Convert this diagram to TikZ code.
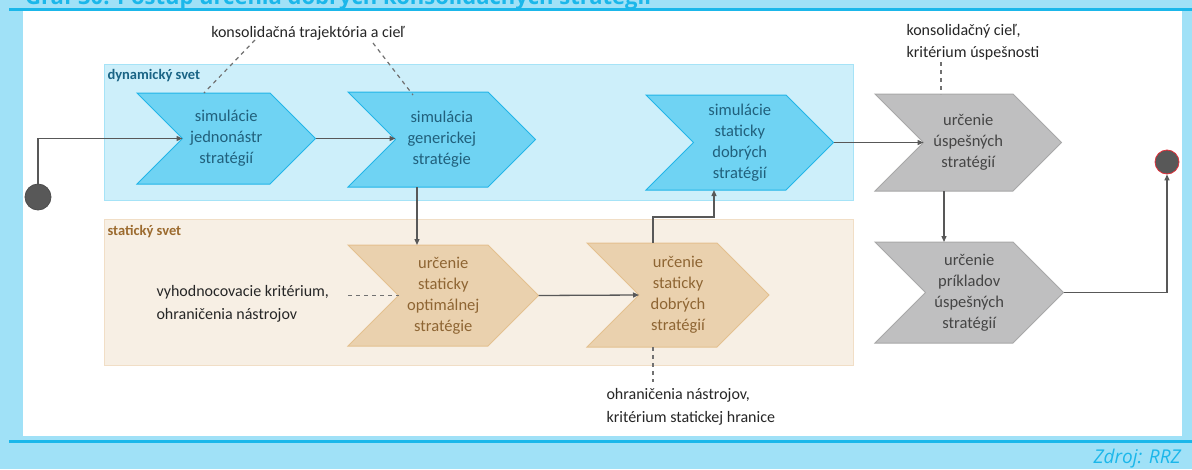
\documentclass[tikz,border=0pt]{standalone}
\usepackage{fontspec}
\setmainfont{Carlito}
\newfontfamily\osans{Open Sans}
\usetikzlibrary{arrows.meta,calc}
\definecolor{bgblue}{HTML}{A0E1F7}
\definecolor{lineblue}{HTML}{1BB7EA}
\definecolor{dynfill}{HTML}{CDEFFA}
\definecolor{dynborder}{HTML}{A6E3F7}
\definecolor{bluefill}{HTML}{6FD3F3}
\definecolor{blueborder}{HTML}{22B5E8}
\definecolor{bluetext}{HTML}{21607C}
\definecolor{dynlabel}{HTML}{1A6485}
\definecolor{statfill}{HTML}{F7EFE4}
\definecolor{statborder}{HTML}{F1DEC6}
\definecolor{tanfill}{HTML}{EAD1AE}
\definecolor{tanborder}{HTML}{E4C08F}
\definecolor{tantext}{HTML}{8E6533}
\definecolor{statlabel}{HTML}{9C6B2F}
\definecolor{grayfill}{HTML}{BFBFC0}
\definecolor{grayborder}{HTML}{A8A8A8}
\definecolor{graytext}{HTML}{454545}
\definecolor{connc}{HTML}{585858}
\definecolor{endred}{HTML}{E0303A}
\tikzset{
  chevfont/.style={align=center,font=\fontsize{16.5}{21}\selectfont},
  bluechev/.style={fill=bluefill,draw=blueborder,line width=1pt},
  bluechev text/.style={chevfont,text=bluetext},
  tanchev/.style={fill=tanfill,draw=tanborder,line width=1pt},
  tanchev text/.style={chevfont,text=tantext},
  graychev/.style={fill=grayfill,draw=grayborder,line width=1pt},
  graychev text/.style={chevfont,text=graytext},
  conn/.style={draw=connc,line width=1.3pt,-{Triangle[length=6pt,width=5pt]}},
  dashconn/.style={draw=connc!85,line width=1.2pt,dash pattern=on 4pt off 4pt},
  ann/.style={text=black!85,align=left,font=\fontsize{16}{22.5}\selectfont},
  worldlabel/.style={font=\bfseries\fontsize{14.5}{16}\selectfont,anchor=west},
  dot/.style={circle,fill=connc,draw=black!70,line width=0.8pt,inner sep=0pt}
}
\newcommand{\mychev}[7]{%
  \pgfmathsetmacro{\ym}{(#4+#5)/2}%
  \pgfmathsetmacro{\dd}{(#5-#4)/2}%
  \draw[#1] (#3,#4) -- (#6,#4) -- ({#6+\dd},\ym) -- (#6,#5) -- (#3,#5) -- ({#3+\dd},\ym) -- cycle;
  \coordinate (#2-in) at ({#3+\dd},\ym);
  \coordinate (#2-out) at ({#6+\dd},\ym);
  \coordinate (#2-nw) at (#3,#4);
  \coordinate (#2-sw) at (#3,#5);
  \node[#1 text] (#2) at ({(#3+#6)/2+\dd/2},\ym) {#7};
}
\begin{document}
\begin{tikzpicture}[x=1pt,y=-1pt]
\useasboundingbox (0,0) rectangle (1192,469);
\clip (0,0) rectangle (1192,469);
% background
\fill[bgblue] (0,0) rectangle (1192,469);
\fill[white] (23,10.5) rectangle (1182,436);
\fill[lineblue] (9,8) rectangle (1192,10.7);
\fill[lineblue] (9,440) rectangle (1192,442.7);
\node[anchor=base west,text=lineblue,font=\osans\bfseries\fontsize{22}{24}\selectfont,inner sep=0pt] (title) at (25,4) {Graf 30: Postup určenia dobrých konsolidačných stratégií};
\node[anchor=base east,text=lineblue,font=\osans\itshape\fontsize{19}{22}\selectfont,inner sep=0pt] (src) at (1181,463) {Zdroj: RRZ};
% world boxes
\draw[fill=dynfill,draw=dynborder,line width=1pt] (104,64) rectangle (853,200);
\node[worldlabel,text=dynlabel] (dyn) at (104,76) {dynamický svet};
\draw[fill=statfill,draw=statborder,line width=1pt] (104,219) rectangle (853,365);
\node[worldlabel,text=statlabel] (stat) at (104,232) {statický svet};
% chevrons
\mychev{bluechev}{c1}{137}{93}{184}{270}{simulácie\\jednonástr\\stratégií}
\mychev{bluechev}{c2}{348}{92}{187}{488}{simulácia\\generickej\\stratégie}
\mychev{bluechev}{c3}{646}{95}{190}{786}{simulácie\\staticky\\dobrých\\stratégií}
\mychev{graychev}{c4}{875}{94}{191}{1013}{určenie\\úspešných\\stratégií}
\mychev{graychev}{c5}{875}{242}{343}{1013}{určenie\\príkladov\\úspešných\\stratégií}
\mychev{tanchev}{c6}{348}{245}{346}{488}{určenie\\staticky\\optimálnej\\stratégie}
\mychev{tanchev}{c7}{587}{243}{347}{717}{určenie\\staticky\\dobrých\\stratégií}
% start / end
\node[dot,minimum size=26pt] (start) at (38,197) {};
\node[dot,draw=endred,minimum size=24pt] (end) at (1167,162) {};
% connectors
\draw[conn] (start.north) |- (c1-in);
\draw[conn] (c1-out) -- (c1-out -| c2-in);
\draw[conn] ([xshift=69pt]c2-sw) -- ([xshift=69pt]c2-sw |- c6-nw);
\draw[conn] (c6-out) -- (c7-in);
\draw[conn] ([xshift=66pt]c7-nw) -- ++(0,-26) -| ([xshift=68pt]c3-sw);
\draw[conn] (c3-out) -- (c4-in);
\draw[conn] ([xshift=69pt]c4-sw) -- ([xshift=69pt]c4-sw |- c5-nw);
\draw[conn] (c5-out) -| (end.south);
% annotations
\node[ann,anchor=center] (a1) at (308,33) {konsolidačná trajektória a cieľ};
\coordinate (a1l) at (255,40);
\coordinate (a1r) at (373,43);
\draw[dashconn] (a1l) -- ([xshift=67pt]c1-nw);
\draw[dashconn] (a1r) -- ([xshift=65pt,yshift=-3pt]c2-nw);
\node[ann,anchor=west] (a2) at (903,42) {konsolidačný cieľ,\\kritérium úspešnosti};
\coordinate (a2b) at (941,62);
\draw[dashconn] (a2b) -- (a2b |- c4-nw);
\node[ann,anchor=west] (a3) at (153,304) {vyhodnocovacie kritérium,\\ohraničenia nástrojov};
\draw[dashconn] (c6-in -| c6-nw) -- (c6-in);
\node[ann,anchor=west] (a4) at (603,407) {ohraničenia nástrojov,\\kritérium statickej hranice};
\coordinate (a4t) at (653,382);
\draw[dashconn] ([xshift=66pt]c7-sw) -- (a4t);
\end{tikzpicture}
\end{document}
